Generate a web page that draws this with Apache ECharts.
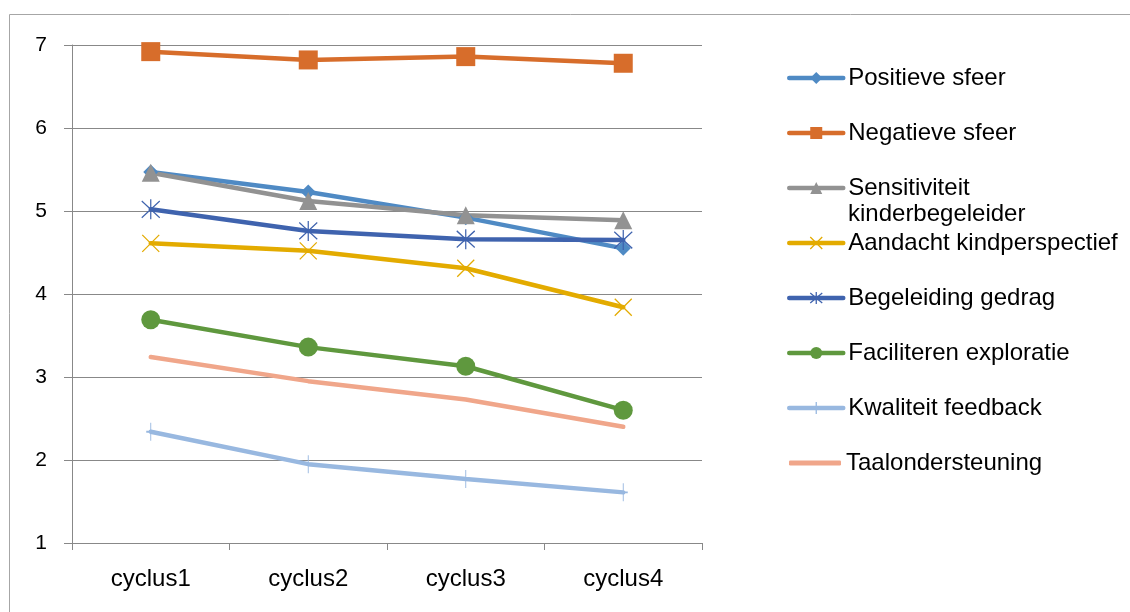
<!DOCTYPE html>
<html><head><meta charset="utf-8">
<script src="https://cdn.jsdelivr.net/npm/echarts@6/dist/echarts.min.js"></script>
<style>html,body{margin:0;padding:0;background:#fff}#c{width:1130px;height:612px}</style>
</head><body><div id="c"></div>
<script>
const categories = ['cyclus1','cyclus2','cyclus3','cyclus4'];
const positieveSfeer = [5.47, 5.23, 4.92, 4.55];
const negatieveSfeer = [6.92, 6.82, 6.86, 6.78];
const sensitiviteit = [5.46, 5.12, 4.95, 4.89];
const aandacht = [4.61, 4.52, 4.31, 3.84];
const begeleiding = [5.02, 4.76, 4.66, 4.65];
const faciliteren = [3.69, 3.36, 3.13, 2.60];
const kwaliteit = [2.34, 1.95, 1.77, 1.61];
const taal = [3.24, 2.95, 2.73, 2.40];
const yTicks = [1,2,3,4,5,6,7];

const X_PATH = 'path://M0,0L10,10M10,0L0,10';
const STAR_PATH = 'path://M0,0L10,10M10,0L0,10M5,-1L5,11';
const PLUS_PATH = 'path://M5,0L5,20M0,10L10,10';

const FONT = 'Liberation Sans, Arial';

const seriesDefs = [
  {name:'Positieve sfeer', data:positieveSfeer, color:'#4F8AC4', symbol:'diamond', size:15},
  {name:'Negatieve sfeer', data:negatieveSfeer, color:'#D76D2B', symbol:'rect', size:19},
  {name:'Sensitiviteit kinderbegeleider', data:sensitiviteit, color:'#929292', symbol:'triangle', size:18},
  {name:'Aandacht kindperspectief', data:aandacht, color:'#E3AB00', symbol:X_PATH, size:17, stroke:true},
  {name:'Begeleiding gedrag', data:begeleiding, color:'#3F63AE', symbol:STAR_PATH, size:[18,20], stroke:true},
  {name:'Faciliteren exploratie', data:faciliteren, color:'#5F983E', symbol:'circle', size:19},
  {name:'Kwaliteit feedback', data:kwaliteit, color:'#98B8E0', symbol:PLUS_PATH, size:[9,18], stroke:true},
  {name:'Taalondersteuning', data:taal, color:'#F0A68A', symbol:'none', size:0}
];

const series = seriesDefs.map(d => ({
  name: d.name,
  type: 'line',
  data: d.data,
  symbol: d.symbol,
  symbolSize: d.size,
  showSymbol: d.symbol !== 'none',
  symbolKeepAspect: false,
  lineStyle: {color: d.color, width: 4.5, cap: 'round'},
  itemStyle: d.stroke ? {color: 'rgba(0,0,0,0)', borderColor: d.color, borderWidth: 1.3} : {color: d.color, borderWidth: 0},
  emphasis: {disabled: true},
  animation: false,
  z: 2
}));

const legendCenters = [77, 132, 187, 242, 297, 352, 407, 462];
const legends = seriesDefs.map((d, i) => {
  const noSym = d.symbol === 'none';
  return {
    data: [{
      name: d.name,
      icon: noSym ? 'roundRect' : undefined,
      itemStyle: d.stroke ? {color: d.color, borderColor: d.color, borderWidth: 1.3} : {color: d.color}
    }],
    left: noSym ? 789 : 787,
    top: legendCenters[i] - 12,
    orient: 'vertical',
    itemWidth: noSym ? 52 : 54,
    itemHeight: noSym ? 5 : 15,
    itemGap: 4,
    padding: 0,
    selectedMode: false,
    lineStyle: {width: 4.5, color: d.color, cap: 'round'},
    formatter: n => (n === 'Sensitiviteit kinderbegeleider' ? 'Sensitiviteit' : n),
    textStyle: {fontFamily: FONT, fontSize: 24, color: '#000', lineHeight: 26}
  };
});

const chart = echarts.init(document.getElementById('c'), null, {renderer: 'canvas'});
chart.setOption({
  animation: false,
  backgroundColor: '#fff',
  graphic: [
    {type: 'rect', shape: {x: 9.5, y: 14.5, width: 1200, height: 700}, style: {fill: 'none', stroke: '#A6A6A6', lineWidth: 1}, z: -1},
    {type: 'text', left: 848, top: 202, style: {text: 'kinderbegeleider', font: '24px "Liberation Sans", Arial', fill: '#000'}}
  ],
  grid: {left: 72, right: 1130 - 702, top: 45, bottom: 612 - 543, containLabel: false},
  legend: legends,
  xAxis: {
    type: 'category',
    data: categories,
    boundaryGap: true,
    axisLine: {lineStyle: {color: '#888', width: 1}},
    axisTick: {show: true, length: 7, lineStyle: {color: '#888'}},
    axisLabel: {fontFamily: FONT, fontSize: 24, color: '#000', margin: 24},
    splitLine: {show: false}
  },
  yAxis: {
    type: 'value',
    min: yTicks[0], max: yTicks[yTicks.length - 1], interval: 1,
    axisLine: {show: true, lineStyle: {color: '#888', width: 1}},
    axisTick: {show: true, length: 8, lineStyle: {color: '#888'}},
    axisLabel: {fontFamily: FONT, fontSize: 21, color: '#000', margin: 25},
    splitLine: {show: true, lineStyle: {color: '#888', width: 1}}
  },
  series: series
});
</script></body></html>
